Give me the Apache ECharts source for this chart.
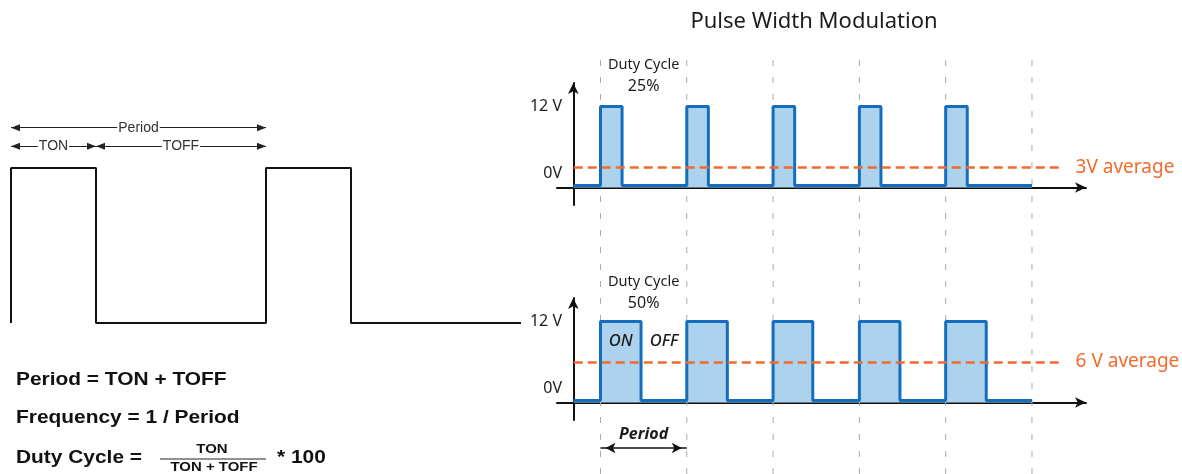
<!DOCTYPE html>
<html>
<head>
<meta charset="utf-8">
<script src="https://cdn.jsdelivr.net/npm/echarts@6/dist/echarts.min.js"></script>
<style>
  html, body { margin: 0; padding: 0; background: #fff; }
  #main { width: 1182px; height: 474px; }
</style>
</head>
<body>
<div id="main"></div>
<script>
// left square wave, time in units of TON, level 0/1
var leftT = [0, 0, 1, 1, 3, 3, 4, 4, 6];
var leftV = [0, 1, 1, 0, 0, 1, 1, 0, 0];
var leftTon = 1;
var leftPeriod = 3;

// PWM signals, time in periods, level in volts
var pwmStart = -0.31;
var pwmEnd = 5;
var riseT = [0, 1, 2, 3, 4];
var fall25 = [0.25, 1.25, 2.25, 3.25, 4.25];
var fall50 = [0.47, 1.47, 2.46, 3.47, 4.47];
var lowV = 0.3;
var highV = 12;
var avgV = [3, 6];
var avgEnd = 5.32;
var periodMarks = [0, 1, 2, 3, 4, 5];

var yLabels = ['12 V', '0V'];
var avgLabels = ['3V average', '6 V average'];
var dutyLabels = ['25%', '50%'];

var BLUE = '#136fbe', FILL = '#acd2ee', ORANGE = '#f26a2c', INK = '#1c1c1c';

function pulses(fall) {
  var pts = [[pwmStart, lowV]];
  riseT.forEach(function (r, i) {
    pts.push([r, lowV], [r, highV], [fall[i], highV], [fall[i], lowV]);
  });
  pts.push([pwmEnd, lowV]);
  return pts;
}

function guides() {
  var pts = [];
  periodMarks.forEach(function (t) {
    pts.push([t, 0], [t, 417], [t, '-']);
  });
  return pts;
}

var arrowAxis = {
  show: true,
  onZero: true,
  symbol: ['none', 'arrow'],
  symbolSize: [8, 11],
  lineStyle: { color: '#111', width: 2 }
};

function pwmX(i) {
  return {
    gridIndex: i, type: 'value', min: -0.504, max: 5.626,
    axisLine: arrowAxis, axisTick: { show: false },
    axisLabel: { show: false }, splitLine: { show: false }
  };
}
function pwmY(i) {
  return {
    gridIndex: i, type: 'value', min: -2.6, max: 15.5, offset: -16.3,
    axisLine: Object.assign({}, arrowAxis, { onZero: false }),
    axisTick: { show: false }, axisLabel: { show: false }, splitLine: { show: false }
  };
}

function avgLine(i) {
  return {
    silent: true,
    symbol: ['none', 'none'],
    lineStyle: { color: ORANGE, width: 2.5, type: [9, 5] },
    label: {
      show: true, position: 'end', distance: 16,
      formatter: avgLabels[i], color: ORANGE,
      fontSize: 19, fontFamily: 'Noto Sans'
    },
    emphasis: { disabled: true },
    data: [[{ coord: [pwmStart, avgV[i]] }, { coord: [avgEnd, avgV[i]] }]]
  };
}

var chart = echarts.init(document.getElementById('main'));

var option = {
  animation: false,
  grid: [
    { left: 11, top: 121.5, width: 510, height: 201.5 },
    { left: 557, top: 83, width: 529, height: 122 },
    { left: 557, top: 298, width: 529, height: 122 },
    { left: 557, top: 57, width: 529, height: 417 }
  ],
  xAxis: [
    { gridIndex: 0, type: 'value', min: 0, max: 6, show: false },
    pwmX(1),
    pwmX(2),
    { gridIndex: 3, type: 'value', min: -0.504, max: 5.626, show: false }
  ],
  yAxis: [
    { gridIndex: 0, type: 'value', min: 0, max: 1.3, show: false },
    pwmY(1),
    pwmY(2),
    { gridIndex: 3, type: 'value', min: 0, max: 417, show: false }
  ],
  series: [
    {
      type: 'line', xAxisIndex: 0, yAxisIndex: 0,
      data: leftT.map(function (t, i) { return [t, leftV[i]]; }),
      symbol: 'none', lineStyle: { color: '#111', width: 2 },
      markLine: {
        silent: true,
        symbol: ['triangle', 'triangle'],
        symbolSize: [7, 9],
        symbolOffset: [[0, 4.5], [0, 4.5]],
        lineStyle: { color: '#222', width: 1.2, type: 'solid' },
        label: {
          show: true, position: 'middle', formatter: '{b}',
          distance: 0, verticalAlign: 'middle',
          color: '#333', fontSize: 14, fontFamily: 'Liberation Sans',
          backgroundColor: '#fff', padding: [0, 1]
        },
        emphasis: { disabled: true },
        data: [
          [{ coord: [0, 1.26], name: 'Period' }, { coord: [leftPeriod, 1.26] }],
          [{ coord: [0, 1.14], name: 'TON' }, { coord: [leftTon, 1.14] }],
          [{ coord: [leftTon, 1.14], name: 'TOFF' }, { coord: [leftPeriod, 1.14] }]
        ]
      }
    },
    {
      type: 'line', xAxisIndex: 3, yAxisIndex: 3, z: 1,
      data: guides(), symbol: 'none', connectNulls: false,
      lineStyle: { color: '#aaaaaa', width: 1, type: [6, 11] },
      markLine: {
        silent: true,
        symbol: ['arrow', 'arrow'],
        symbolSize: [8, 10],
        symbolOffset: [[0, 5], [0, 5]],
        lineStyle: { color: '#111', width: 1.5, type: 'solid' },
        label: {
          show: true, position: 'insideMiddleTop', formatter: '{b}', distance: 6,
          color: INK, fontSize: 16, fontStyle: 'italic', fontWeight: 'bold',
          fontFamily: 'Noto Sans'
        },
        emphasis: { disabled: true },
        data: [[{ coord: [periodMarks[0], 26], name: 'Period' }, { coord: [periodMarks[1], 26] }]]
      }
    },
    {
      type: 'line', xAxisIndex: 1, yAxisIndex: 1, z: 3,
      data: pulses(fall25), symbol: 'none',
      lineStyle: { color: BLUE, width: 3 },
      areaStyle: { color: FILL, opacity: 1 },
      markLine: avgLine(0)
    },
    {
      type: 'line', xAxisIndex: 2, yAxisIndex: 2, z: 3,
      data: pulses(fall50), symbol: 'none',
      lineStyle: { color: BLUE, width: 3 },
      areaStyle: { color: FILL, opacity: 1 },
      markLine: avgLine(1)
    }
  ]
};

chart.setOption(option);

// text annotations, anchored on the chart's own scales
function px(g, t, v) { return chart.convertToPixel({ gridIndex: g }, [t, v]); }

function txt(x, y, text, font, fill, align, sx) {
  return {
    type: 'text', x: x, y: y, z: 100, scaleX: sx || 1, silent: true,
    style: {
      text: text, font: font, fill: fill || INK,
      textAlign: align || 'left', align: align || 'left',
      textVerticalAlign: 'middle', verticalAlign: 'middle'
    }
  };
}

var g = [];
g.push(txt(814, 22, 'Pulse Width Modulation', '22px "Noto Sans"', INK, 'center'));

var dutyY = [65, 282];
[1, 2].forEach(function (gi, k) {
  var axisY = px(gi, 0, 0)[1];
  var topY = px(gi, 0, highV)[1];
  g.push(txt(562, topY, yLabels[0], '16px "Noto Sans"', INK, 'right'));
  g.push(txt(562, axisY - 14, yLabels[1], '16px "Noto Sans"', INK, 'right'));
  var cx = px(gi, (periodMarks[0] + periodMarks[1]) / 2, 0)[0];
  g.push(txt(cx, dutyY[k], 'Duty Cycle', '14.5px "Noto Sans"', INK, 'center'));
  g.push(txt(cx, dutyY[k] + 21, dutyLabels[k], '16px "Noto Sans"', INK, 'center'));
});

var onX = px(2, (riseT[0] + fall50[0]) / 2, 0)[0];
var offX = px(2, (fall50[0] + riseT[1]) / 2, 0)[0];
g.push(txt(onX, 341, 'ON', 'italic 500 16.5px "Noto Sans"', INK, 'center'));
g.push(txt(offX, 341, 'OFF', 'italic 500 16.5px "Noto Sans"', INK, 'center'));

var F = 'bold 19px "Liberation Sans"';
g.push(txt(16, 380, 'Period = TON + TOFF', F, '#111', 'left', 1.1));
g.push(txt(16, 418, 'Frequency = 1 / Period', F, '#111', 'left', 1.1));
g.push(txt(16, 458, 'Duty Cycle =', F, '#111', 'left', 1.1));
g.push(txt(212, 449, 'TON', 'bold 13px "Liberation Sans"', '#111', 'center', 1.15));
g.push({ type: 'line', silent: true, z: 100, shape: { x1: 160, y1: 459, x2: 266, y2: 459 },
  style: { stroke: '#222', lineWidth: 1 } });
g.push(txt(214, 467, 'TON + TOFF', 'bold 13px "Liberation Sans"', '#111', 'center', 1.15));
g.push(txt(277, 458, '* 100', F, '#111', 'left', 1.1));

chart.setOption({ graphic: g });
</script>
</body>
</html>
